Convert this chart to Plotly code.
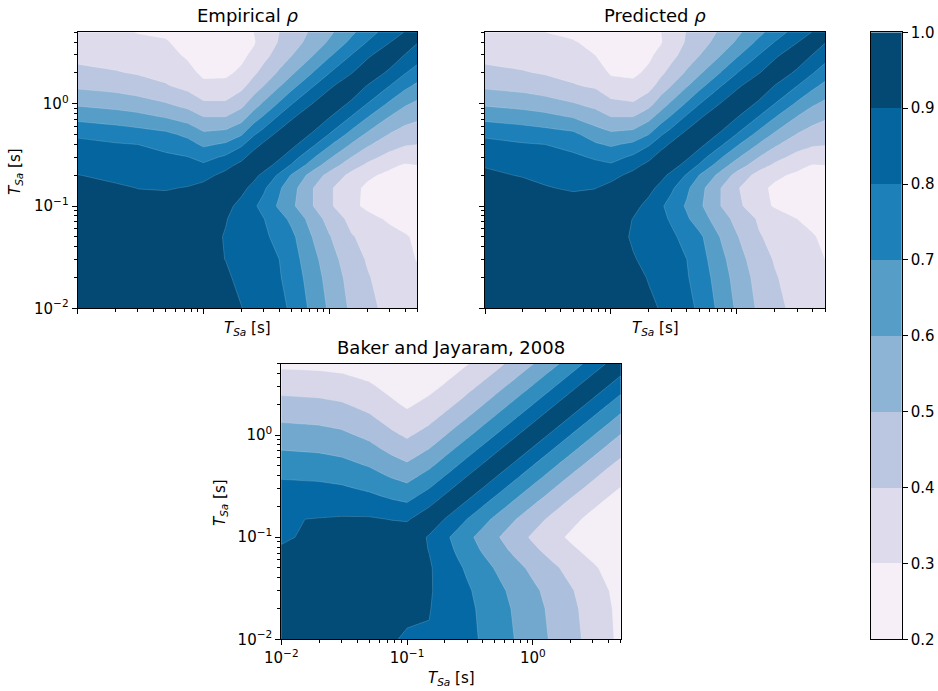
import math
import plotly.graph_objects as go

# Spectral periods (s) shared by all three correlation matrices
PERIODS = [0.01, 0.02, 0.03, 0.05, 0.075, 0.1, 0.15, 0.2, 0.25, 0.3, 0.4,
           0.5, 0.75, 1.0, 1.5, 2.0, 3.0, 4.0, 5.0]

# Upper-triangle rows: row i holds rho(T_i, T_j) for j >= i
EMPIRICAL_ROWS = [
    [1.0, 0.97, 0.955, 0.945, 0.935, 0.93, 0.915, 0.902, 0.875, 0.853, 0.818, 0.79, 0.666, 0.585, 0.481, 0.426, 0.373, 0.345, 0.323],
    [1.0, 0.975, 0.955, 0.94, 0.93, 0.912, 0.881, 0.858, 0.838, 0.808, 0.76, 0.647, 0.562, 0.463, 0.408, 0.357, 0.322, 0.31],
    [1.0, 0.955, 0.935, 0.92, 0.899, 0.871, 0.848, 0.829, 0.80, 0.745, 0.628, 0.54, 0.445, 0.392, 0.345, 0.312, 0.298],
    [1.0, 0.96, 0.935, 0.894, 0.862, 0.838, 0.817, 0.772, 0.724, 0.591, 0.507, 0.407, 0.375, 0.335, 0.306, 0.29],
    [1.0, 0.96, 0.905, 0.863, 0.83, 0.803, 0.736, 0.678, 0.553, 0.462, 0.372, 0.332, 0.285, 0.275, 0.27],
    [1.0, 0.93, 0.868, 0.816, 0.767, 0.684, 0.621, 0.498, 0.416, 0.324, 0.28, 0.26, 0.25, 0.25],
    [1.0, 0.929, 0.869, 0.817, 0.714, 0.638, 0.498, 0.416, 0.324, 0.285, 0.27, 0.265, 0.26],
    [1.0, 0.929, 0.873, 0.784, 0.692, 0.553, 0.468, 0.373, 0.316, 0.28, 0.27, 0.29],
    [1.0, 0.947, 0.861, 0.79, 0.643, 0.552, 0.441, 0.383, 0.319, 0.29, 0.30],
    [1.0, 0.915, 0.848, 0.707, 0.614, 0.498, 0.431, 0.37, 0.345, 0.35],
    [1.0, 0.931, 0.813, 0.713, 0.591, 0.516, 0.439, 0.407, 0.40],
    [1.0, 0.877, 0.795, 0.664, 0.583, 0.495, 0.454, 0.445],
    [1.0, 0.907, 0.797, 0.708, 0.60, 0.544, 0.52],
    [1.0, 0.873, 0.799, 0.684, 0.613, 0.58],
    [1.0, 0.895, 0.802, 0.725, 0.68],
    [1.0, 0.87, 0.804, 0.755],
    [1.0, 0.894, 0.85],
    [1.0, 0.905],
    [1.0],
]

PREDICTED_ROWS = [
    [1.0, 0.97, 0.955, 0.945, 0.935, 0.93, 0.915, 0.912, 0.896, 0.858, 0.818, 0.79, 0.666, 0.585, 0.481, 0.426, 0.373, 0.345, 0.323],
    [1.0, 0.975, 0.955, 0.94, 0.93, 0.92, 0.896, 0.862, 0.838, 0.808, 0.76, 0.647, 0.562, 0.463, 0.408, 0.357, 0.322, 0.305],
    [1.0, 0.955, 0.935, 0.92, 0.905, 0.883, 0.852, 0.829, 0.80, 0.745, 0.628, 0.54, 0.445, 0.392, 0.345, 0.312, 0.30],
    [1.0, 0.96, 0.935, 0.891, 0.862, 0.838, 0.817, 0.772, 0.724, 0.591, 0.507, 0.407, 0.375, 0.335, 0.306, 0.285],
    [1.0, 0.96, 0.897, 0.854, 0.821, 0.79, 0.713, 0.651, 0.542, 0.47, 0.387, 0.352, 0.30, 0.28, 0.265],
    [1.0, 0.93, 0.868, 0.814, 0.762, 0.687, 0.621, 0.498, 0.424, 0.337, 0.29, 0.265, 0.255, 0.25],
    [1.0, 0.929, 0.869, 0.82, 0.72, 0.638, 0.498, 0.41, 0.32, 0.285, 0.27, 0.265, 0.26],
    [1.0, 0.929, 0.875, 0.79, 0.70, 0.565, 0.466, 0.364, 0.317, 0.285, 0.28, 0.295],
    [1.0, 0.947, 0.861, 0.79, 0.643, 0.552, 0.441, 0.383, 0.325, 0.295, 0.30],
    [1.0, 0.915, 0.848, 0.707, 0.614, 0.498, 0.431, 0.37, 0.345, 0.335],
    [1.0, 0.931, 0.813, 0.713, 0.591, 0.516, 0.439, 0.41, 0.405],
    [1.0, 0.877, 0.795, 0.664, 0.583, 0.495, 0.456, 0.444],
    [1.0, 0.907, 0.797, 0.708, 0.60, 0.542, 0.515],
    [1.0, 0.873, 0.799, 0.684, 0.613, 0.579],
    [1.0, 0.895, 0.802, 0.725, 0.674],
    [1.0, 0.87, 0.804, 0.748],
    [1.0, 0.894, 0.845],
    [1.0, 0.905],
    [1.0],
]

BAKER_ROWS = [
    [1.000, 0.995, 0.988, 0.948, 0.903, 0.896, 0.895, 0.881, 0.834, 0.795, 0.732, 0.682, 0.588, 0.519, 0.420, 0.349, 0.248, 0.175, 0.118],
    [1.000, 0.994, 0.961, 0.918, 0.907, 0.903, 0.875, 0.826, 0.786, 0.720, 0.669, 0.573, 0.504, 0.406, 0.335, 0.236, 0.166, 0.112],
    [1.000, 0.974, 0.933, 0.919, 0.910, 0.865, 0.813, 0.770, 0.702, 0.648, 0.550, 0.481, 0.383, 0.314, 0.218, 0.152, 0.102],
    [1.000, 0.963, 0.942, 0.915, 0.838, 0.778, 0.729, 0.652, 0.593, 0.488, 0.416, 0.319, 0.254, 0.170, 0.114, 0.074],
    [1.000, 0.971, 0.896, 0.803, 0.731, 0.673, 0.585, 0.519, 0.405, 0.330, 0.235, 0.176, 0.105, 0.064, 0.038],
    [1.000, 0.884, 0.781, 0.703, 0.641, 0.545, 0.475, 0.355, 0.279, 0.185, 0.129, 0.066, 0.034, 0.016],
    [1.000, 0.895, 0.814, 0.749, 0.649, 0.573, 0.444, 0.360, 0.254, 0.188, 0.110, 0.067, 0.041],
    [1.000, 0.918, 0.852, 0.749, 0.671, 0.535, 0.444, 0.328, 0.254, 0.163, 0.110, 0.076],
    [1.000, 0.933, 0.829, 0.749, 0.609, 0.514, 0.390, 0.310, 0.211, 0.151, 0.110],
    [1.000, 0.895, 0.814, 0.671, 0.573, 0.444, 0.360, 0.254, 0.188, 0.143],
    [1.000, 0.918, 0.772, 0.671, 0.535, 0.444, 0.328, 0.254, 0.202],
    [1.000, 0.852, 0.749, 0.609, 0.514, 0.390, 0.310, 0.254],
    [1.000, 0.895, 0.749, 0.649, 0.514, 0.425, 0.360],
    [1.000, 0.852, 0.749, 0.609, 0.514, 0.444],
    [1.000, 0.895, 0.749, 0.649, 0.573],
    [1.000, 0.852, 0.749, 0.671],
    [1.000, 0.895, 0.814],
    [1.000, 0.918],
    [1.000],
]

# Contour levels and fill colours
TOP_LEVELS = dict(start=0.2, end=1.0, size=0.1)
TOP_LINES = dict(start=0.3, end=0.9, size=0.1)
TOP_COLORS = ["#f6eff7", "#dedcec", "#bbc7e0", "#8db3d5",
              "#569dc8", "#1e80b8", "#05659f", "#034973"]
BAKER_LEVELS = dict(start=0.0, end=1.05, size=0.15)
BAKER_LINES = dict(start=0.15, end=0.9, size=0.15)
BAKER_COLORS = ["#f4eef6", "#d8d7e9", "#acc0dd", "#72a8ce",
                "#328dbf", "#0569a5", "#034c78"]
CBAR_TICKS = [0.2, 0.3, 0.4, 0.5, 0.6, 0.7, 0.8, 0.9, 1.0]


def full_matrix(rows):
    n = len(rows)
    m = [[0.0] * n for _ in range(n)]
    for i, r in enumerate(rows):
        for k, v in enumerate(r):
            m[i][i + k] = v
            m[i + k][i] = v
    return m


def step_scale(colors):
    n = len(colors)
    scale = []
    for k, c in enumerate(colors):
        scale.append([k / n, c])
        scale.append([(k + 1) / n, c])
    return scale


W, H = 938, 691
FONT = "DejaVu Sans"
TICK_SIZE = 15
TITLE_SIZE = 18


def xd(a, b):
    return [a / W, b / W]


def yd(top, bottom):
    return [1 - bottom / H, 1 - top / H]


TOP_Y = yd(32.3, 308.3)
BOT_Y = yd(363.7, 639.3)
PANELS = [
    ("x", "y", xd(77.7, 417.3), TOP_Y),
    ("x2", "y2", xd(485.0, 825.0), TOP_Y),
    ("x3", "y3", xd(281.3, 620.7), BOT_Y),
]

fig = go.Figure()
data_sets = [
    (EMPIRICAL_ROWS, TOP_LEVELS, TOP_LINES, TOP_COLORS, 0.2, 1.0),
    (PREDICTED_ROWS, TOP_LEVELS, TOP_LINES, TOP_COLORS, 0.2, 1.0),
    (BAKER_ROWS, BAKER_LEVELS, BAKER_LINES, BAKER_COLORS, 0.0, 1.05),
]
for (xa, ya, _, _), (rows, lev, lines, cols, zmin, zmax) in zip(PANELS, data_sets):
    z = full_matrix(rows)
    # filled bands
    fig.add_trace(go.Contour(
        x=PERIODS, y=PERIODS, z=z,
        xaxis=xa, yaxis=ya,
        colorscale=step_scale(cols), zmin=zmin, zmax=zmax,
        autocontour=False,
        contours=dict(coloring="fill", showlines=False, **lev),
        line=dict(smoothing=0, width=0),
        showscale=False, hoverinfo="skip",
    ))
    # faint seams between neighbouring bands
    fig.add_trace(go.Contour(
        x=PERIODS, y=PERIODS, z=z,
        xaxis=xa, yaxis=ya,
        autocontour=False,
        contours=dict(coloring="none", showlines=True, **lines),
        line=dict(smoothing=0, width=0.6, color="rgba(255,255,255,0.28)"),
        showscale=False, hoverinfo="skip",
    ))

# Colour bar drawn as a one-column heatmap
mids = [round(a + 0.05, 2) for a in CBAR_TICKS[:-1]]
fig.add_trace(go.Heatmap(
    x=[0], y=mids, z=[[m] for m in mids],
    colorscale=step_scale(TOP_COLORS), zmin=0.2, zmax=1.0,
    showscale=False, hoverinfo="skip", xaxis="x4", yaxis="y4",
))

major = [0.01, 0.1, 1.0]
major_text = ["10<sup>\u22122</sup>", "10<sup>\u22121</sup>", "10<sup>0</sup>"]
minor = [k * d for d in (0.01, 0.1, 1.0) for k in range(2, 10) if k * d <= 5.0001]
LOGRANGE = [-2, math.log10(5.0)]

tickfont = dict(family=FONT, size=TICK_SIZE, color="black")


def log_axis(domain, anchor, labels):
    return dict(
        type="log", range=LOGRANGE, domain=domain, anchor=anchor, automargin=False,
        showline=True, mirror=True, linecolor="black", linewidth=1.2,
        ticks="outside", ticklen=5, tickwidth=1.2, tickcolor="black",
        tickmode="array", tickvals=major, ticktext=major_text,
        showticklabels=labels, tickfont=tickfont,
        minor=dict(tickmode="array", tickvals=minor, ticks="outside",
                   ticklen=3, tickwidth=0.9, tickcolor="black"),
        showgrid=False, zeroline=False,
    )


layout = dict(
    width=W, height=H, margin=dict(l=0, r=0, t=0, b=0, autoexpand=False),
    paper_bgcolor="white", plot_bgcolor="white", showlegend=False,
    font=dict(family=FONT, color="black"),
)
layout["xaxis"] = log_axis(PANELS[0][2], "y", False)
layout["yaxis"] = log_axis(PANELS[0][3], "x", True)
layout["xaxis2"] = log_axis(PANELS[1][2], "y2", False)
layout["yaxis2"] = log_axis(PANELS[1][3], "x2", False)
layout["xaxis3"] = log_axis(PANELS[2][2], "y3", True)
layout["yaxis3"] = log_axis(PANELS[2][3], "x3", True)
layout["xaxis4"] = dict(domain=xd(871.0, 901.7), anchor="y4", range=[-0.5, 0.5], automargin=False,
                        showline=True, mirror=True, linecolor="black", linewidth=1.2,
                        ticks="", showticklabels=False, showgrid=False, zeroline=False)
layout["yaxis4"] = dict(domain=yd(32.3, 639.3), anchor="x4", range=[0.2, 1.0], side="right",
                        automargin=False,
                        showline=True, mirror=True, linecolor="black", linewidth=1.2,
                        ticks="outside", ticklen=5, tickwidth=1.2, tickcolor="black",
                        tickmode="array", tickvals=CBAR_TICKS,
                        ticktext=[f"{v:.1f}" for v in CBAR_TICKS],
                        tickfont=tickfont, showgrid=False, zeroline=False)
fig.update_layout(**layout)

label = "<i>T<sub>Sa</sub></i> [s]"
ann = []
for title, (_, _, xdom, ydom) in zip(["Empirical <i>\u03c1</i>", "Predicted <i>\u03c1</i>",
                                       "Baker and Jayaram, 2008"], PANELS):
    ann.append(dict(text=title, x=(xdom[0] + xdom[1]) / 2, y=ydom[1], xref="paper", yref="paper",
                    xanchor="center", yanchor="bottom", yshift=4, showarrow=False,
                    font=dict(family=FONT, size=TITLE_SIZE, color="black")))
for xc, yc in [(247.5, 328), (655, 328), (451, 678)]:
    ann.append(dict(text=label, x=xc / W, y=1 - yc / H, xref="paper", yref="paper",
                    xanchor="center", yanchor="middle", showarrow=False,
                    font=dict(family=FONT, size=TICK_SIZE, color="black")))
for xc, yc in [(16, 172), (220, 503)]:
    ann.append(dict(text=label, x=xc / W, y=1 - yc / H, xref="paper", yref="paper",
                    xanchor="center", yanchor="middle", textangle=-90, showarrow=False,
                    font=dict(family=FONT, size=TICK_SIZE, color="black")))
fig.update_layout(annotations=ann)

fig.write_html("out.html")
